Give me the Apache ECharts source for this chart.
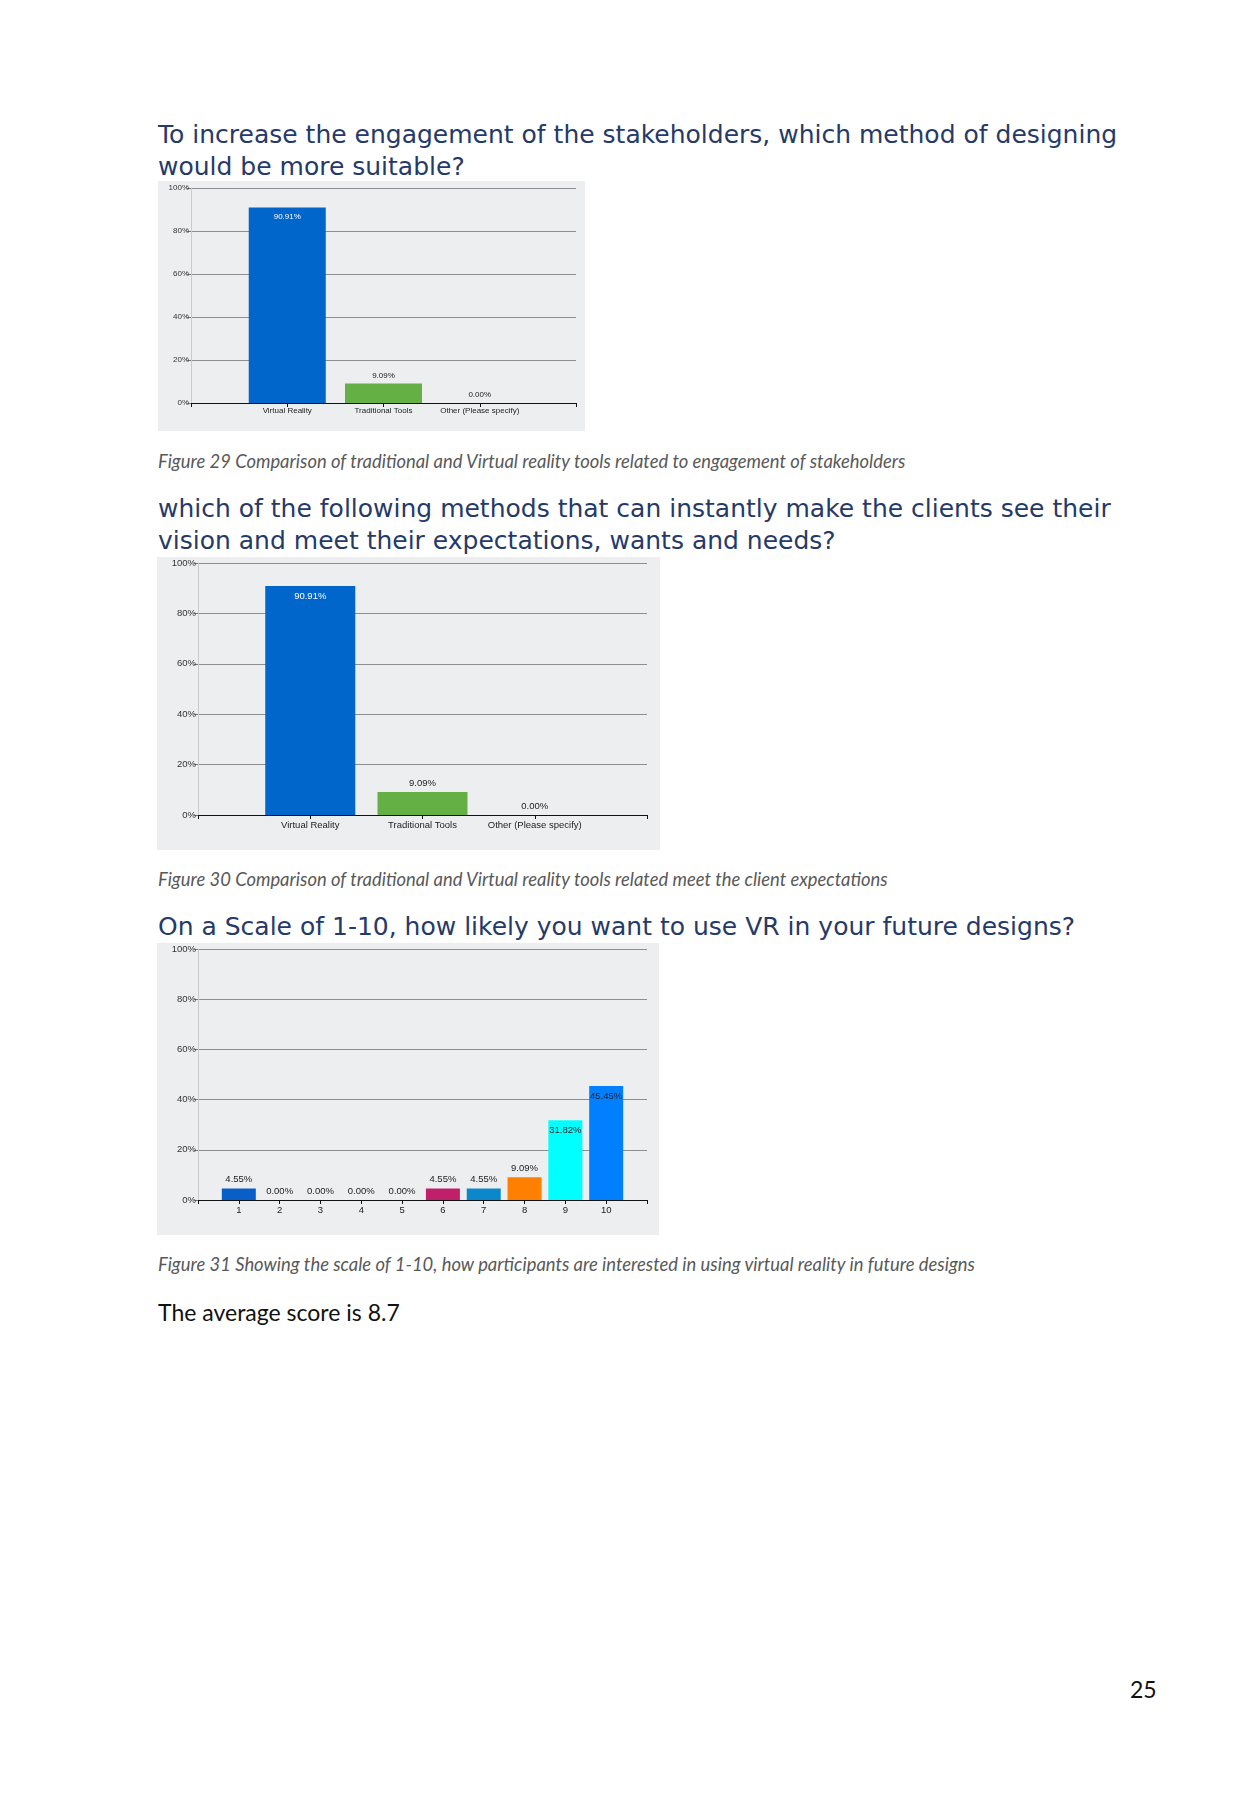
<!DOCTYPE html>
<html>
<head>
<meta charset="utf-8">
<script src="https://cdn.jsdelivr.net/npm/echarts@6/dist/echarts.min.js"></script>
<style>
  html, body { margin: 0; padding: 0; background: #ffffff; }
  body { width: 1241px; height: 1807px; position: relative; overflow: hidden; }
  .h { position: absolute; left: 158px; font-family: "DejaVu Sans", sans-serif; font-size: 25px; line-height: 31.5px; color: #263a68; white-space: nowrap; }
  .cap { position: absolute; left: 158px; font-family: Lato, sans-serif; font-style: italic; font-size: 18.4px; line-height: 22px; color: #595959; white-space: nowrap; }
  .txt { position: absolute; left: 158px; font-family: Lato, sans-serif; font-size: 23px; line-height: 28px; color: #111; white-space: nowrap; }
  .chart { position: absolute; background: #eceef0; }
</style>
</head>
<body>
<div class="h" style="top:119px">To increase the engagement of the stakeholders, which method of designing<br>would be more suitable?</div>
<div id="c1" class="chart" style="left:158px;top:181px;width:427px;height:250px"></div>
<div class="cap" style="top:450px">Figure 29 Comparison of traditional and Virtual reality tools related to engagement of stakeholders</div>
<div class="h" style="top:493px">which of the following methods that can instantly make the clients see their<br>vision and meet their expectations, wants and needs?</div>
<div id="c2" class="chart" style="left:157px;top:557px;width:503px;height:293px"></div>
<div class="cap" style="top:868px">Figure 30 Comparison of traditional and Virtual reality tools related meet the client expectations</div>
<div class="h" style="top:911px">On a Scale of 1-10, how likely you want to use VR in your future designs?</div>
<div id="c3" class="chart" style="left:157px;top:943px;width:502px;height:292px"></div>
<div class="cap" style="top:1253px">Figure 31 Showing the scale of 1-10, how participants are interested in using virtual reality in future designs</div>
<div class="txt" style="top:1298px">The average score is 8.7</div>
<div class="txt" style="top:1675px;left:1130px">25</div>
<script>
// ---- data ----
const methodCategories = ['Virtual Reality', 'Traditional Tools', 'Other (Please specify)'];
const engagementValues = [90.91, 9.09, 0.00];
const expectationValues = [90.91, 9.09, 0.00];
const methodColors = ['#0066cc', '#64b044', '#eceef0'];
const scaleCategories = ['1', '2', '3', '4', '5', '6', '7', '8', '9', '10'];
const scaleValues = [4.55, 0.00, 0.00, 0.00, 0.00, 4.55, 4.55, 9.09, 31.82, 45.45];
const scaleColors = ['#0a5ec8', '#0a5ec8', '#0a5ec8', '#0a5ec8', '#0a5ec8', '#c0206a', '#0b88cc', '#ff8000', '#00ffff', '#0080ff'];
const scaleInside = [false, false, false, false, false, false, false, false, true, true];
const yTicks = [0, 20, 40, 60, 80, 100];

function pad(arr, v) { return [v].concat(arr, [v]); }

function buildOption(cats, vals, colors, insideFlags, opts) {
  const fs = opts.fontSize;
  const data = vals.map(function (v, i) {
    const inside = insideFlags[i];
    return {
      value: v,
      itemStyle: { color: colors[i] },
      label: {
        show: true,
        position: inside ? 'insideTop' : 'top',
        distance: inside ? opts.insideDist : 4,
        color: inside ? opts.insideColor : '#222'
      }
    };
  });
  return {
    animation: false,
    grid: { left: opts.left, right: opts.right, top: opts.top, bottom: opts.bottom },
    xAxis: {
      type: 'category',
      boundaryGap: false,
      data: pad(cats, ''),
      axisLine: { lineStyle: { color: '#111', width: 1 } },
      axisTick: { show: true, alignWithLabel: true, length: 4, lineStyle: { color: '#111' }, interval: 0 },
      axisLabel: { interval: 0, fontSize: fs, color: '#222', margin: opts.xMargin, fontFamily: 'Liberation Sans' },
      splitLine: { show: false }
    },
    yAxis: {
      type: 'value',
      min: yTicks[0],
      max: yTicks[yTicks.length - 1],
      interval: yTicks[1] - yTicks[0],
      axisLine: { show: true, lineStyle: { color: '#c8cacc' } },
      axisTick: { show: true, length: 4, lineStyle: { color: '#777' } },
      axisLabel: { fontSize: fs, color: '#333', margin: 2, fontFamily: 'Liberation Sans', formatter: '{value}%' },
      splitLine: { show: true, lineStyle: { color: '#8c8e90', width: 1 } }
    },
    series: [{
      type: 'bar',
      barWidth: opts.barWidth,
      data: pad(data, '-'),
      label: {
        show: true,
        fontSize: fs,
        fontFamily: 'Liberation Sans',
        formatter: function (p) { return Number(p.value).toFixed(2) + '%'; }
      }
    }]
  };
}

const c1 = echarts.init(document.getElementById('c1'), null, { renderer: 'canvas' });
c1.setOption(buildOption(methodCategories, engagementValues, methodColors, [true, false, false],
  { fontSize: 8, left: 33, right: 9, top: 7, bottom: 28, barWidth: 77, insideDist: 5, insideColor: '#ffffff', xMargin: 4 }));

const c2 = echarts.init(document.getElementById('c2'), null, { renderer: 'canvas' });
c2.setOption(buildOption(methodCategories, expectationValues, methodColors, [true, false, false],
  { fontSize: 9.5, left: 41, right: 13, top: 6, bottom: 35, barWidth: 90, insideDist: 5, insideColor: '#ffffff', xMargin: 5 }));

const c3 = echarts.init(document.getElementById('c3'), null, { renderer: 'canvas' });
c3.setOption(buildOption(scaleCategories, scaleValues, scaleColors, scaleInside,
  { fontSize: 9.5, left: 41, right: 12, top: 6, bottom: 35, barWidth: 34, insideDist: 5, insideColor: '#222', xMargin: 5 }));
</script>
</body>
</html>
